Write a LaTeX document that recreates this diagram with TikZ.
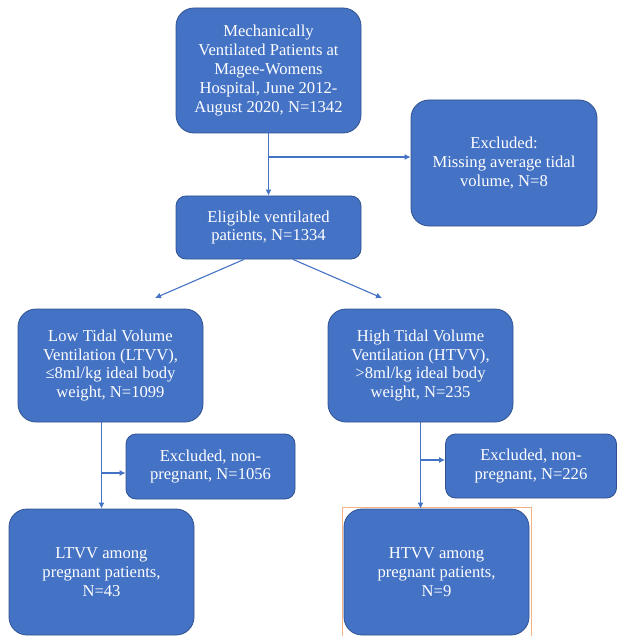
\documentclass[tikz,border=0pt]{standalone}
\usepackage{fontspec}
\setmainfont{Liberation Serif}
\usepackage{tikz}
\usetikzlibrary{arrows.meta}
\definecolor{boxblue}{HTML}{4472C4}
\definecolor{boxedge}{HTML}{2F528F}
\definecolor{selorange}{HTML}{F4B183}
\tikzset{
  box/.style={draw=boxedge,fill=boxblue,text=white,align=center,inner sep=0pt,
    line width=0.8pt,font=\fontsize{16.6}{18.8}\selectfont},
  bigbox/.style={box,rounded corners=18pt},
  smallbox/.style={box,rounded corners=10pt},
  arr/.style={draw=boxblue,line width=1.1pt,-{Latex[length=6pt,width=6pt]}}
}
\begin{document}
\begin{tikzpicture}[x=1pt,y=1pt]
          \useasboundingbox (0,0) rectangle (617,-636);
          \node[bigbox,minimum width=185pt,minimum height=125pt] (cohort) at (268.5,-70.5)
            {Mechanically\\Ventilated Patients at\\Magee-Womens\\Hospital, June 2012-\\August 2020, N=1342};
          \node[bigbox,minimum width=186pt,minimum height=126pt] (missing) at (504,-163)
            {Excluded:\\Missing average tidal\\volume, N=8};
          \node[smallbox,minimum width=185pt,minimum height=63pt] (eligible) at (268.5,-227.5)
            {Eligible ventilated\\patients, N=1334};
          \node[bigbox,minimum width=185pt,minimum height=113pt] (ltvv) at (110.5,-365.5)
            {Low Tidal Volume\\Ventilation (LTVV),\\≤8ml/kg ideal body\\weight, N=1099};
          \node[bigbox,minimum width=185pt,minimum height=113pt] (htvv) at (420.5,-365.5)
            {High Tidal Volume\\Ventilation (HTVV),\\>8ml/kg ideal body\\weight, N=235};
          \node[smallbox,minimum width=169pt,minimum height=65pt] (exclow) at (210.5,-466.5)
            {Excluded, non-\\pregnant, N=1056};
          \node[smallbox,minimum width=171pt,minimum height=64pt] (exchigh) at (531,-466)
            {Excluded, non-\\pregnant, N=226};
          \node[bigbox,minimum width=185pt,minimum height=126pt] (preglow) at (101.5,-572)
            {LTVV among\\pregnant patients,\\N=43};
          \node[bigbox,minimum width=185pt,minimum height=126pt] (preghigh) at (436.5,-572)
            {HTVV among\\pregnant patients,\\N=9};
          \draw[selorange,line width=0.6pt] ([shift={(-1.5pt,1.5pt)}]preghigh.north west)
            rectangle ([shift={(1.5pt,-1pt)}]preghigh.south east);
          \coordinate (splittop) at (268.5,-157);
          \coordinate (tolow) at (155,-298);
          \coordinate (tohigh) at (382,-298);
          \coordinate (splitlow) at (101.5,-473);
          \coordinate (splithigh) at (420.5,-460);
          \draw[arr] (cohort.south) -- (eligible.north);
          \draw[arr] (splittop) -- (splittop -| missing.west);
          \draw[arr] ([xshift=-24.5pt]eligible.south) -- (tolow);
          \draw[arr] ([xshift=24.5pt]eligible.south) -- (tohigh);
          \draw[arr] (preglow.north |- ltvv.south) -- (preglow.north);
          \draw[arr] (splitlow) -- (splitlow -| exclow.west);
          \draw[arr] (htvv.south) -- (htvv.south |- preghigh.north);
          \draw[arr] (splithigh) -- (splithigh -| exchigh.west);
        \end{tikzpicture}
\end{document}
